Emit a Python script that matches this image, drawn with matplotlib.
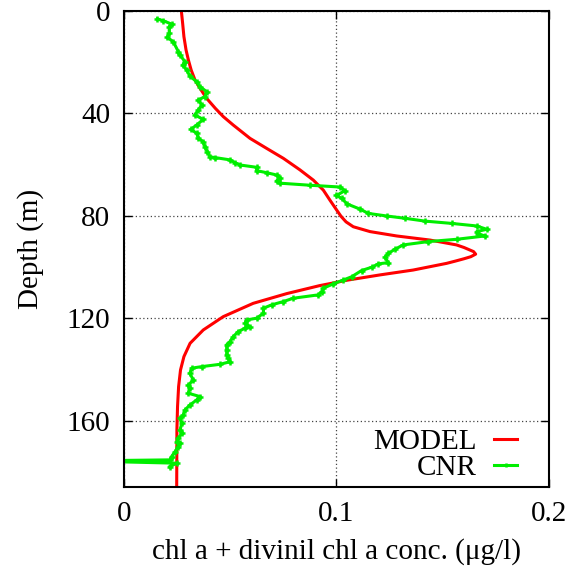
import matplotlib
matplotlib.use("Agg")
import matplotlib.pyplot as plt

plt.rcParams['font.family'] = ['Liberation Serif', 'DejaVu Serif']

# MODEL profile (concentration, depth)
chl_model = [0.0270, 0.0276, 0.0282, 0.0292, 0.0303, 0.0316, 0.0334, 0.0358,
             0.0389, 0.0430, 0.0467, 0.0514, 0.0593, 0.0671, 0.0750, 0.0828,
             0.0891, 0.0938, 0.0969, 0.1001, 0.1022, 0.1045, 0.1079, 0.1158,
             0.1283, 0.1440, 0.1565, 0.1600, 0.1645, 0.1655, 0.1632, 0.1600,
             0.1560, 0.1518, 0.1361, 0.1205, 0.1055, 0.0920, 0.0766, 0.0608,
             0.0467, 0.0373, 0.0311, 0.0282, 0.0266, 0.0257, 0.0252, 0.0249,
             0.0248]
depth_model = [0, 4.8, 10.0, 15.2, 19.1, 23.0, 26.9, 30.2,
               34.1, 38.0, 41.2, 44.5, 49.7, 53.6, 57.5, 62.0,
               66.0, 69.9, 73.8, 77.7, 80.2, 82.3, 84.2, 86.1,
               87.8, 89.4, 91.3, 92.3, 93.9, 94.9, 95.9, 96.7,
               97.6, 98.5, 101.1, 103.0, 105.0, 107.2, 110.3, 114.1,
               119.3, 124.5, 129.7, 134.9, 140.1, 146.6, 154.4, 163.5,
               186]

# CNR measurements (concentration, depth)
chl_cnr = [0.0157, 0.0185, 0.0224, 0.0213, 0.0213, 0.0204, 0.0232, 0.0256,
           0.0264, 0.0287, 0.0276, 0.0295, 0.0310, 0.0342, 0.0358, 0.0389,
           0.0381, 0.0350, 0.0366, 0.0350, 0.0334, 0.0373, 0.0342, 0.0314,
           0.0342, 0.0350, 0.0373, 0.0381, 0.0392, 0.0405, 0.0428, 0.0499,
           0.0522, 0.0546, 0.0624, 0.0624, 0.0671, 0.0718, 0.0734, 0.0718,
           0.0734, 0.0875, 0.1016, 0.1040, 0.1000, 0.1024, 0.1050, 0.1110,
           0.1150, 0.1236, 0.1322, 0.1416, 0.1542, 0.1660, 0.1707, 0.1660,
           0.1668, 0.1699, 0.1565, 0.1432, 0.1314, 0.1275, 0.1244, 0.1228,
           0.1244, 0.1197, 0.1166, 0.1118, 0.1072, 0.1032, 0.0985, 0.0938,
           0.0930, 0.0914, 0.0797, 0.0750, 0.0695, 0.0656, 0.0656, 0.0624,
           0.0577, 0.0570, 0.0593, 0.0570, 0.0538, 0.0514, 0.0499, 0.0483,
           0.0483, 0.0483, 0.0491, 0.0499, 0.0452, 0.0366, 0.0319, 0.0310,
           0.0326, 0.0303, 0.0310, 0.0303, 0.0358, 0.0342, 0.0310, 0.0287,
           0.0279, 0.0264, 0.0272, 0.0264, 0.0272, 0.0256, 0.0248, 0.0264,
           0.0256, 0.0240, 0.0224, 0.0216, -0.0200, 0.0248, 0.0216]
depth_cnr = [3.1, 3.8, 5.1, 6.1, 8.7, 10.3, 12.0, 15.9,
             17.2, 19.8, 21.1, 23.0, 25.4, 27.6, 29.5, 31.5,
             33.4, 34.7, 36.7, 38.6, 40.6, 42.3, 44.5, 46.2,
             47.7, 49.7, 51.0, 53.0, 54.9, 56.9, 57.2, 58.1,
             59.2, 60.1, 61.0, 62.3, 63.1, 64.0, 65.3, 66.3,
             67.2, 68.0, 68.7, 70.1, 72.0, 73.1, 75.3, 77.3,
             79.0, 80.0, 80.9, 82.0, 82.9, 83.9, 85.2, 86.1,
             87.0, 87.8, 89.1, 90.0, 91.3, 93.0, 94.6, 96.1,
             98.2, 98.7, 100.0, 101.3, 103.7, 105.0, 106.5, 108.2,
             109.5, 110.8, 112.1, 113.4, 114.7, 116.0, 118.0, 119.9,
             120.6, 121.9, 123.2, 123.8, 125.1, 127.1, 129.0, 130.3,
             132.3, 134.2, 135.5, 136.9, 137.9, 138.8, 139.4, 141.4,
             144.0, 146.0, 147.2, 149.2, 150.5, 151.8, 153.8, 155.7,
             157.7, 158.9, 160.9, 163.5, 164.8, 166.8, 168.1, 168.7,
             170.0, 172.0, 173.9, 175.2, 175.6, 176.5, 177.8]

x_ticks = [0, 0.1, 0.2]
x_ticklabels = ['0', '0.1', '0.2']
y_ticks = [0, 40, 80, 120, 160]

fig = plt.figure(figsize=(5.68, 5.80), dpi=100)
ax = fig.add_axes([0.2183, 0.1603, 0.7482, 0.8207])

ax.plot(chl_model, depth_model, color='#ff0000', lw=2.2, label='MODEL')
ax.plot(chl_cnr, depth_cnr, color='#00ee00', lw=2.2, marker='+', ms=5, mew=1.8,
        label='CNR')

ax.set_xlim(0, 0.2)
ax.set_ylim(185.8, 0)
ax.set_xticks(x_ticks)
ax.set_xticklabels(x_ticklabels)
ax.set_yticks(y_ticks)

ax.grid(True, color='#444444', linestyle=(0, (1, 2)), lw=0.9)
ax.tick_params(direction='in', top=True, right=True, length=6, width=1,
               labelsize=21, pad=10)
for s in ax.spines.values():
    s.set_linewidth(1.5)

ax.set_xlabel('chl a + divinil chl a conc. (\u03bcg/l)', fontsize=21, labelpad=8)
ax.set_ylabel('Depth (m)', fontsize=21, labelpad=16)

leg = ax.legend(loc='lower right', bbox_to_anchor=(0.939, 0.0), frameon=False,
                fontsize=21, markerfirst=False, handlelength=0.8,
                handletextpad=0.6, borderaxespad=0.0, borderpad=0.2,
                labelspacing=0.0, markerscale=0.6)
for t in leg.get_texts():
    t.set_ha('right')

fig.savefig('out.png', dpi=100)
